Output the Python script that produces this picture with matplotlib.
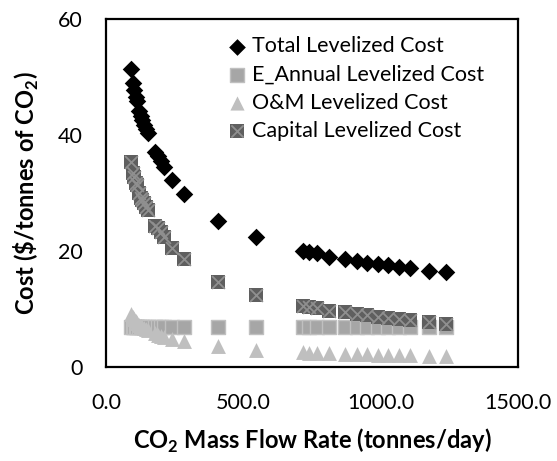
import matplotlib
matplotlib.use("Agg")
import matplotlib.pyplot as plt
from matplotlib.ticker import FormatStrFormatter

plt.rcParams["font.family"] = ["Lato", "DejaVu Sans"]
plt.rcParams["mathtext.fontset"] = "custom"
plt.rcParams["mathtext.rm"] = "Lato"
plt.rcParams["mathtext.bf"] = "Lato:bold"

# CO2 mass flow rate (tonnes/day)
flow_rate = [90, 97, 103, 108, 114, 120, 126, 132, 139, 146, 152, 180, 190, 200,
             211, 240, 284, 409, 545, 718, 740, 767, 812, 870, 913, 949, 991,
             1028, 1067, 1107, 1176, 1238]

# Levelized costs ($/tonne of CO2)
total_cost = [51.4, 48.9, 47.8, 46.6, 45.8, 44.2, 43.2, 42.6, 41.8, 41.0, 40.3,
              37.0, 36.4, 35.5, 34.5, 32.2, 29.9, 25.2, 22.4, 20.0, 19.8, 19.6,
              19.0, 18.6, 18.3, 18.0, 17.7, 17.5, 17.2, 17.0, 16.6, 16.3]
e_annual_cost = [6.9] * len(flow_rate)
om_cost = [9.2, 8.6, 8.2, 7.9, 7.6, 7.3, 7.1, 6.9, 6.7, 6.5, 6.3, 5.8, 5.6, 5.4,
           5.2, 4.8, 4.4, 3.6, 3.0, 2.6, 2.5, 2.5, 2.4, 2.3, 2.2, 2.2, 2.1, 2.1,
           2.0, 2.0, 1.9, 1.9]
capital_cost = [35.3, 33.4, 32.7, 31.8, 31.3, 30.0, 29.2, 28.8, 28.2, 27.6, 27.1,
                24.3, 23.9, 23.2, 22.4, 20.5, 18.6, 14.7, 12.5, 10.5, 10.4, 10.2,
                9.7, 9.4, 9.2, 8.9, 8.7, 8.5, 8.3, 8.1, 7.8, 7.5]

x_ticks = [0, 500, 1000, 1500]
y_ticks = [0, 20, 40, 60]

fig = plt.figure(figsize=(5.57, 4.61), dpi=100)
ax = fig.add_axes([0.1903, 0.2039, 0.7397, 0.7549])

h_total = ax.scatter(flow_rate, total_cost, marker="D", s=80, color="black",
                     linewidths=0, zorder=3)
h_e = ax.scatter(flow_rate, e_annual_cost, marker="s", s=115, color="#a6a6a6",
                 edgecolors="#c0c0c0", linewidths=1.0, zorder=4)
h_om = ax.scatter(flow_rate, om_cost, marker="^", s=115, color="#bfbfbf",
                  linewidths=0, zorder=5)
h_cap_sq = ax.scatter(flow_rate, capital_cost, marker="s", s=115, color="#5f5f5f",
                      linewidths=0, zorder=6)
h_cap_x = ax.scatter(flow_rate, capital_cost, marker="x", s=85, color="#8f8f8f",
                     linewidths=1.3, zorder=7)

ax.set_xlim(0, 1500)
ax.set_ylim(0, 60)
ax.set_xticks(x_ticks)
ax.set_yticks(y_ticks)
ax.xaxis.set_major_formatter(FormatStrFormatter("%.1f"))
ax.tick_params(axis="both", length=0, labelsize=15.5)
ax.tick_params(axis="y", pad=17)
ax.tick_params(axis="x", pad=19)
for sp in ax.spines.values():
    sp.set_linewidth(1.6)
    sp.set_color("black")

ax.set_xlabel(r"CO$_\mathbf{2}$ Mass Flow Rate (tonnes/day)", fontsize=17,
              fontweight="bold", labelpad=10)
ax.set_ylabel(r"Cost (\$/tonnes of CO$_\mathbf{2}$)", fontsize=17,
              fontweight="bold", labelpad=12)

ax.legend([h_total, h_e, h_om, (h_cap_sq, h_cap_x)],
          ["Total Levelized Cost", "E_Annual Levelized Cost",
           "O&M Levelized Cost", "Capital Levelized Cost"],
          loc="upper left", bbox_to_anchor=(0.294, 0.95), frameon=False,
          fontsize=15.5, handletextpad=0.2, labelspacing=0.38,
          handlelength=0.95, borderpad=0, borderaxespad=0, markerscale=0.95)

fig.savefig("out.png", dpi=100)
